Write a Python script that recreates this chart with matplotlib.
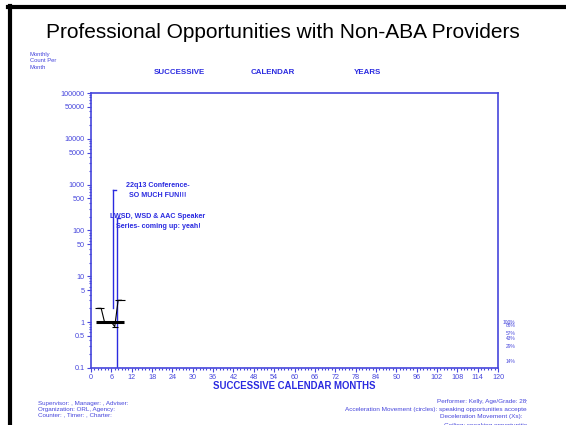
import matplotlib
matplotlib.use("Agg")
import matplotlib.pyplot as plt
from matplotlib.lines import Line2D
from matplotlib.ticker import FixedLocator, FixedFormatter, MultipleLocator, LogLocator, NullFormatter
from matplotlib.transforms import Bbox, TransformedBbox, blended_transform_factory

plt.rcParams['font.family'] = ['Liberation Sans', 'DejaVu Sans']

# data
months = [2, 3, 4, 5, 6, 7, 8, 9]
counts = [2, 2, 1, 1, 1, 0.8, 3, 3]
aim_x = [1.5, 9.7]
aim_y = [1, 1]

# phase change lines
phase_x = [6.5, 7.55]
phase_bottom = [2.05, 0.1]
phase_top = [760, 186]
phase_tab = [7.3, 8.6]
phase_labels = ["22q13 Conference-\nSO MUCH FUN!!!",
                "LWSD, WSD & AAC Speaker\nSeries- coming up: yeah!"]
phase_label_y = [760, 160]

y_ticks = [0.1, 0.5, 1, 5, 10, 50, 100, 500, 1000, 5000, 10000, 50000, 100000]
y_labels = ["0.1", "0.5", "1", "5", "10", "50", "100", "500", "1000", "5000",
            "10000", "50000", "100000"]
pct_values = [1.0, 0.86, 0.57, 0.43, 0.29, 0.14]
pct_labels = ["100%", "86%", "57%", "43%", "29%", "14%"]

blue = '#2a2ae0'
axblue = '#4646dc'

fig = plt.figure(figsize=(5.66, 4.25), dpi=100)
W, H = 566.0, 425.0

ax = fig.add_axes([91 / W, 1 - 368 / H, 407 / W, 275 / H])
ax.set_yscale('log')
ax.set_xlim(0, 120)
ax.set_ylim(0.1, 100000)

for s in ax.spines.values():
    s.set_color(axblue)
    s.set_linewidth(1.2)

ax.xaxis.set_major_locator(MultipleLocator(6))
ax.xaxis.set_minor_locator(MultipleLocator(1))
ax.yaxis.set_major_locator(FixedLocator(y_ticks))
ax.yaxis.set_major_formatter(FixedFormatter(y_labels))
ax.yaxis.set_minor_locator(LogLocator(base=10, subs=[2, 3, 4, 6, 7, 8, 9]))
ax.yaxis.set_minor_formatter(NullFormatter())
ax.tick_params(which='major', direction='out', length=3, width=0.8,
               color=axblue, labelcolor=axblue, labelsize=5.2, pad=1.5)
ax.tick_params(which='minor', direction='out', length=1.5, width=0.8, color=axblue)

# data
ax.plot(aim_x, aim_y, color='black', lw=2.2, solid_capstyle='butt', zorder=3)
ax.plot(months, counts, color='black', lw=0.8, marker='_', ms=4, mew=0.8, zorder=4)

for x, lo, hi, tab, lab, ly in zip(phase_x, phase_bottom, phase_top, phase_tab,
                                     phase_labels, phase_label_y):
    ax.plot([x, x], [lo, hi], color=blue, lw=1.0, zorder=2)
    ax.plot([x, tab], [hi, hi], color=blue, lw=1.0, zorder=2)
    ax.text(19.7, ly, lab, color=blue, fontsize=5.1, fontweight='bold',
            ha='center', va='center', linespacing=1.6)

ptrans = blended_transform_factory(ax.transAxes, ax.transData)
for v, lab in zip(pct_values, pct_labels):
    ax.text(1.042, v, lab, transform=ptrans, color=axblue, fontsize=3.5,
            ha='right', va='center')

ax.set_xlabel("SUCCESSIVE CALENDAR MONTHS", color=blue, fontsize=6.9,
              fontweight='bold', labelpad=0)

# header texts
fig.text(0.5, 1 - 33 / H, "Professional Opportunities with Non-ABA Providers",
         fontsize=15, ha='center', va='center', color='black')
fig.text(30 / W, 1 - 61 / H, "Monthly\nCount Per\nMonth", fontsize=4.2,
         color=axblue, ha='left', va='center', linespacing=1.45)
for xc, word in zip([179, 273, 367], ["SUCCESSIVE", "CALENDAR", "YEARS"]):
    fig.text(xc / W, 1 - 72 / H, word, fontsize=5.7, fontweight='bold',
             color=blue, ha='center', va='center')

# footer texts
fig.text(38 / W, 1 - 409 / H,
         "Supervisor: , Manager: , Adviser:\nOrganization: ORL, Agency:\nCounter: , Timer: , Charter:",
         fontsize=4.5, color=axblue, ha='left', va='center', linespacing=1.15)

clip = TransformedBbox(Bbox([[0, 0], [527 / W, 1]]), fig.transFigure)
right_lines = ["Performer: Kelly, Age/Grade: 28yrs",
               "Acceleration Movement (circles): speaking opportunities accepted",
               "Deceleration Movement (Xs):",
               "Ceiling: speaking opportunities"]
right_x = [535, 530, 523, 531]
right_y = [401, 409, 416.5, 425]
for line, rx, ry in zip(right_lines, right_x, right_y):
    t = fig.text(rx / W, 1 - ry / H, line, fontsize=4.6,
                 color=axblue, ha='right', va='center')
    t.set_clip_box(clip)
    t.set_clip_on(True)

# slide frame
fig.add_artist(Line2D([8 / W, 1], [1 - 7 / H, 1 - 7 / H], color='black', lw=3,
                      transform=fig.transFigure))
fig.add_artist(Line2D([10 / W, 10 / W], [0, 1 - 5.5 / H], color='black', lw=3,
                      transform=fig.transFigure))

fig.savefig("out.png", dpi=100)
